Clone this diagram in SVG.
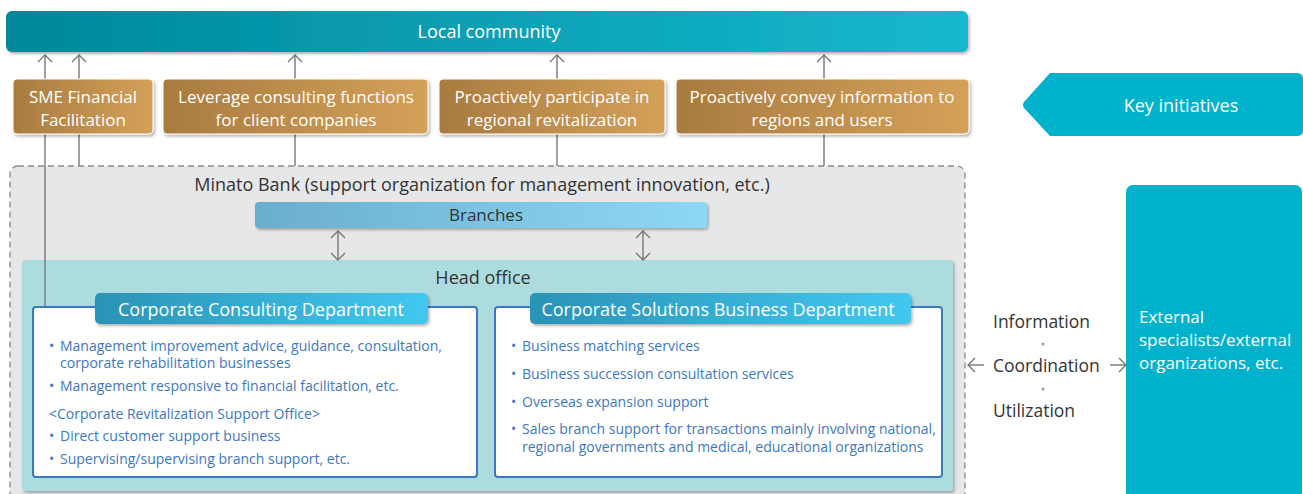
<svg xmlns="http://www.w3.org/2000/svg" width="1303" height="494" viewBox="0 0 1303 494">
<defs>
<linearGradient id="gTeal" x1="0" y1="0" x2="1" y2="0"><stop offset="0" stop-color="#00889a"/><stop offset="1" stop-color="#16b8cf"/></linearGradient>
<linearGradient id="gGold" x1="0" y1="0" x2="1" y2="0"><stop offset="0" stop-color="#a87b3f"/><stop offset="1" stop-color="#d4a15a"/></linearGradient>
<linearGradient id="gBranch" x1="0" y1="0" x2="1" y2="0"><stop offset="0" stop-color="#6aaecd"/><stop offset="1" stop-color="#8dd8f6"/></linearGradient>
<linearGradient id="gDept" x1="0" y1="0" x2="1" y2="0"><stop offset="0" stop-color="#2b93b5"/><stop offset="1" stop-color="#42c8f0"/></linearGradient>
<filter id="sh" x="-10%" y="-30%" width="120%" height="170%"><feDropShadow dx="1.5" dy="2" stdDeviation="1.5" flood-color="#000" flood-opacity="0.3"/></filter>
<marker id="ah" viewBox="0 0 10 16" refX="9" refY="8" markerWidth="10" markerHeight="16" markerUnits="userSpaceOnUse" orient="auto-start-reverse"><path d="M2,1 L9,8 L2,15" fill="none" stroke="#777" stroke-width="1.4"/></marker>
</defs>
<style>
text{font-family:"Open Sans","Liberation Sans",Arial,sans-serif}
.w{fill:#fff;font-size:18px}
.g{fill:#fff;font-size:17px}
.d{fill:#333;font-size:18px}
.r{fill:#333;font-size:17.5px}
.b{fill:#3a78bf;font-size:14px}
.c{stroke:#777;stroke-width:1.4;fill:none}
</style>
<rect width="1303" height="494" fill="#fff"/>

<g id="container">
<rect x="10" y="166" width="955" height="340" rx="8" fill="#e6e7e9" stroke="#8a8a8a" stroke-width="1.3" stroke-dasharray="6,4"/>
<text x="482" y="191" text-anchor="middle" class="d">Minato Bank (support organization for management innovation, etc.)</text>
</g>

<g id="head-office">
<rect x="22" y="260" width="931" height="231" rx="3" fill="#addcdf" filter="url(#sh)"/>
<text x="483" y="284" text-anchor="middle" class="d">Head office</text>
</g>

<g id="connectors">
<line class="c" x1="45" y1="307" x2="45" y2="55" marker-end="url(#ah)"/>
<line class="c" x1="79" y1="166" x2="79" y2="55" marker-end="url(#ah)"/>
<line class="c" x1="295" y1="166" x2="295" y2="55" marker-end="url(#ah)"/>
<line class="c" x1="557" y1="166" x2="557" y2="55" marker-end="url(#ah)"/>
<line class="c" x1="824" y1="166" x2="824" y2="55" marker-end="url(#ah)"/>
<line class="c" x1="338" y1="231" x2="338" y2="260" marker-start="url(#ah)" marker-end="url(#ah)"/>
<line class="c" x1="643" y1="231" x2="643" y2="260" marker-start="url(#ah)" marker-end="url(#ah)"/>
<line class="c" x1="968" y1="365" x2="984" y2="365" marker-start="url(#ah)"/>
<line class="c" x1="1110" y1="365" x2="1126" y2="365" marker-end="url(#ah)"/>
</g>

<g id="local-community">
<rect x="6" y="11" width="962" height="41" rx="6" fill="url(#gTeal)" filter="url(#sh)"/>
<text x="489" y="38" text-anchor="middle" class="w">Local community</text>
</g>

<g id="sme">
<rect x="13" y="79" width="140" height="55" rx="4" fill="url(#gGold)" stroke="#fff" stroke-width="1" filter="url(#sh)"/>
<text text-anchor="middle" class="g"><tspan x="83" y="103">SME Financial</tspan><tspan x="83" y="126.4">Facilitation</tspan></text>
</g>
<g id="leverage">
<rect x="163" y="79" width="265" height="55" rx="4" fill="url(#gGold)" stroke="#fff" stroke-width="1" filter="url(#sh)"/>
<text text-anchor="middle" class="g"><tspan x="296" y="103">Leverage consulting functions</tspan><tspan x="296" y="126.4">for client companies</tspan></text>
</g>
<g id="participate">
<rect x="439" y="79" width="226" height="55" rx="4" fill="url(#gGold)" stroke="#fff" stroke-width="1" filter="url(#sh)"/>
<text text-anchor="middle" class="g"><tspan x="552" y="103">Proactively participate in</tspan><tspan x="552" y="126.4">regional revitalization</tspan></text>
</g>
<g id="convey">
<rect x="676" y="79" width="293" height="55" rx="4" fill="url(#gGold)" stroke="#fff" stroke-width="1" filter="url(#sh)"/>
<text text-anchor="middle" class="g"><tspan x="822" y="103">Proactively convey information to</tspan><tspan x="822" y="126.4">regions and users</tspan></text>
</g>

<g id="key-initiatives">
<path d="M1050,73 H1297 Q1303,73 1303,79 V130 Q1303,136 1297,136 H1050 L1024,108 Q1022,105 1024,102 Z" fill="#00b2cc"/>
<text x="1181" y="112" text-anchor="middle" class="w">Key initiatives</text>
</g>

<g id="branches">
<rect x="255" y="202" width="452" height="26" rx="4" fill="url(#gBranch)" filter="url(#sh)"/>
<text x="486" y="221" text-anchor="middle" class="d" style="font-size:17px">Branches</text>
</g>

<g id="consulting-dept">
<rect x="33" y="307" width="444" height="170" rx="3" fill="#fff" stroke="#3a78bf" stroke-width="2"/>
<rect x="95" y="293" width="333" height="31" rx="5" fill="url(#gDept)" filter="url(#sh)"/>
<text x="261" y="316" text-anchor="middle" class="w">Corporate Consulting Department</text>
<g class="b">
<text x="49" y="351">• <tspan x="60">Management improvement advice, guidance, consultation,</tspan><tspan x="60" y="368">corporate rehabilitation businesses</tspan></text>
<text x="49" y="391">• <tspan x="60">Management responsive to financial facilitation, etc.</tspan></text>
<text x="49" y="419">&lt;Corporate Revitalization Support Office&gt;</text>
<text x="49" y="441">• <tspan x="60">Direct customer support business</tspan></text>
<text x="49" y="464">• <tspan x="60">Supervising/supervising branch support, etc.</tspan></text>
</g>
</g>

<g id="solutions-dept">
<rect x="495" y="307" width="447" height="170" rx="3" fill="#fff" stroke="#3a78bf" stroke-width="2"/>
<rect x="530" y="293" width="381" height="31" rx="5" fill="url(#gDept)" filter="url(#sh)"/>
<text x="718" y="316" text-anchor="middle" class="w">Corporate Solutions Business Department</text>
<g class="b">
<text x="511" y="351">• <tspan x="522">Business matching services</tspan></text>
<text x="511" y="379">• <tspan x="522">Business succession consultation services</tspan></text>
<text x="511" y="407">• <tspan x="522">Overseas expansion support</tspan></text>
<text x="511" y="434">• <tspan x="522">Sales branch support for transactions mainly involving national,</tspan><tspan x="522" y="452">regional governments and medical, educational organizations</tspan></text>
</g>
</g>

<g id="link-labels">
<text x="993" y="328" class="r">Information</text>
<circle cx="1043" cy="344" r="1.5" fill="#999"/>
<text x="993" y="372" class="r">Coordination</text>
<circle cx="1043" cy="389" r="1.5" fill="#999"/>
<text x="993" y="417" class="r">Utilization</text>
</g>

<g id="external">
<rect x="1126" y="185" width="176" height="320" rx="7" fill="#00b2cc"/>
<text class="g"><tspan x="1139" y="322.5">External</tspan><tspan x="1139" y="345.9">specialists/external</tspan><tspan x="1139" y="369.3">organizations, etc.</tspan></text>
</g>
</svg>
